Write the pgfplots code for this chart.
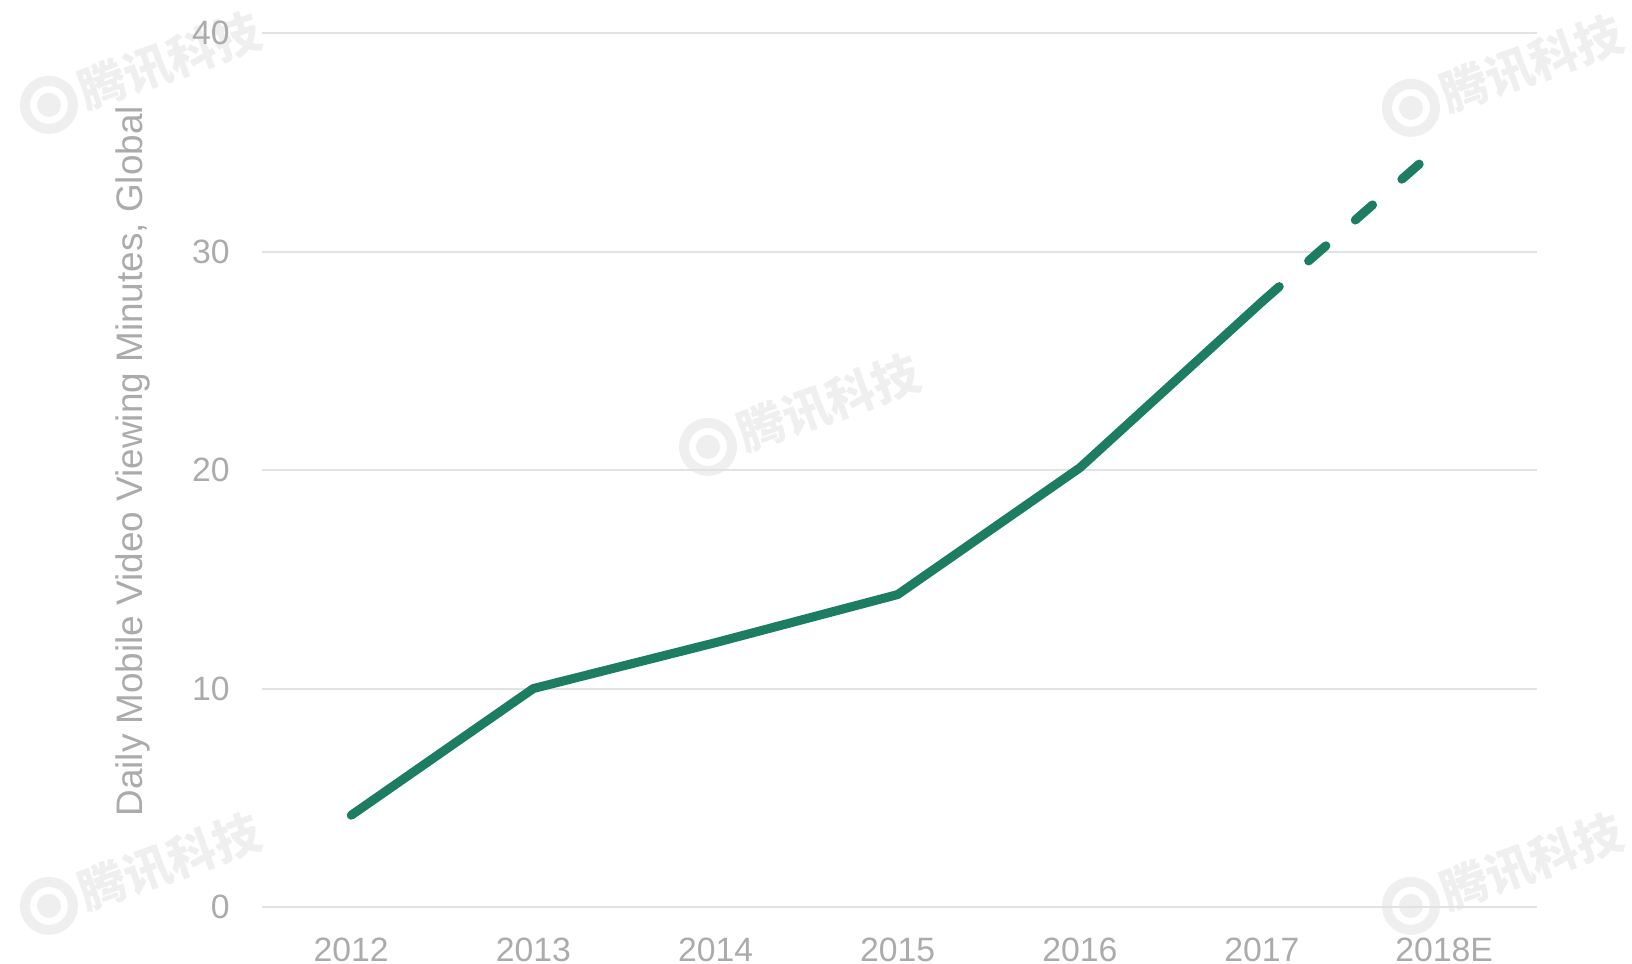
\documentclass[border=0pt]{standalone}
\usepackage{fontspec}
\setmainfont{Liberation Sans}
\newfontfamily\cjk{Noto Sans CJK SC}
\usepackage{pgfplots}
\pgfplotsset{compat=1.18}
\definecolor{linegreen}{HTML}{1D7D63}
\definecolor{txtgray}{HTML}{ABABAB}
\definecolor{gridgray}{HTML}{E2E2E2}
\definecolor{wm}{HTML}{EFEFEF}
\newcommand{\wmark}[2]{%
  \begin{scope}[shift={(#1,#2)}, rotate=20, transform shape]
    \draw[wm, line width=1mm] (-9.9mm,0) circle (2.4mm);
    \fill[wm] (-9.9mm,0) circle (1.2mm);
    \node[anchor=west, text=wm, inner sep=0pt, font=\cjk\bfseries\fontsize{13.5}{14}\selectfont] at (-6.6mm,0) {腾讯科技};
  \end{scope}}
\begin{document}
\begin{tikzpicture}
\wmark{-12.0mm}{83.6mm}
\wmark{124.2mm}{83.3mm}
\wmark{53.9mm}{49.4mm}
\wmark{-12.0mm}{3.5mm}
\wmark{124.2mm}{3.5mm}
\begin{axis}[
  scale only axis,
  width=127.5mm, height=87.4mm,
  xmin=-0.49, xmax=6.51,
  ymin=0, ymax=40,
  ytick={0,10,20,30,40},
  xtick={0,1,2,3,4,5,6},
  xticklabels={2012,2013,2014,2015,2016,2017,2018E},
  axis line style={draw=none},
  major tick length=0pt,
  ymajorgrids,
  grid style={gridgray, line width=0.2mm},
  /pgf/number format/assume math mode=true,
  tick label style={text=txtgray, font=\fontsize{9.6}{11}\selectfont},
  xticklabel style={inner sep=1pt},
  xticklabel shift=2.7mm,
  yticklabel shift=2mm,
  ylabel={Daily Mobile Video Viewing Minutes, Global},
  every axis y label/.style={at={(axis description cs:-0.101,0.51)}, rotate=90, anchor=center, text=txtgray, font=\fontsize{10.5}{12}\selectfont},
  clip=false,
]
\addplot[linegreen, line width=0.9mm, line cap=round, line join=round] coordinates {
  (0,4.2) (1,10.0) (2,12.1) (3,14.3) (4,20.1) (5,27.7)
};
\addplot[linegreen, line width=0.9mm, line cap=round, dash pattern=on 2.3mm off 3.9mm] coordinates {
  (5,27.7) (6,35.0)
};
\end{axis}
\pgfresetboundingbox
\useasboundingbox (-26.2mm,-5.6mm) rectangle (137.0mm,90.7mm);
\end{tikzpicture}
\end{document}
